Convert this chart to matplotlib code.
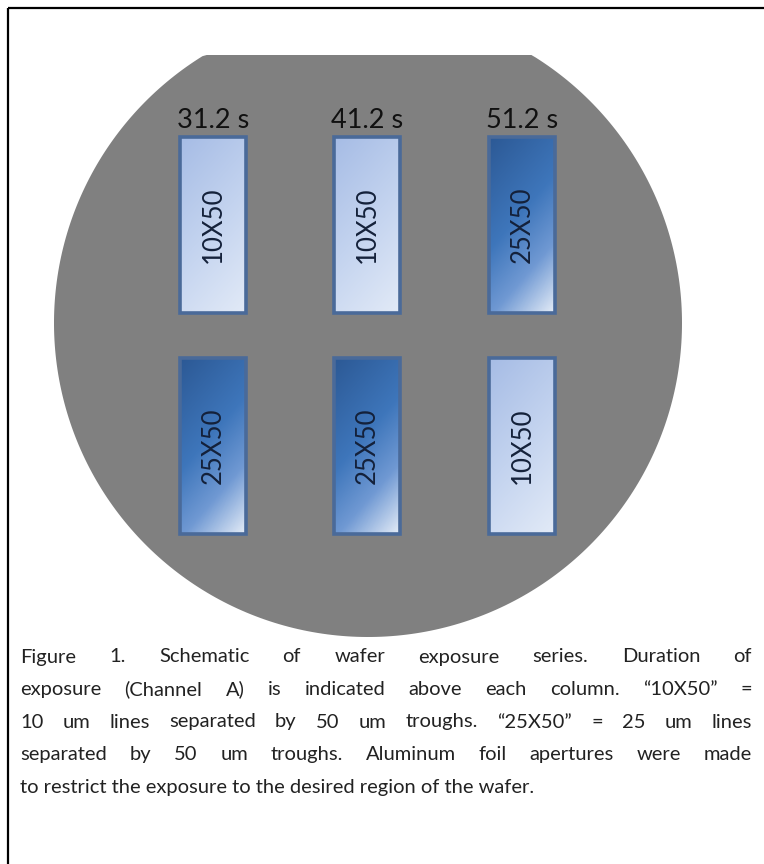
import numpy as np
import matplotlib
matplotlib.use("Agg")
import matplotlib.pyplot as plt
from matplotlib.patches import Polygon, Rectangle
from matplotlib.colors import LinearSegmentedColormap

# exposure time above each column, pattern in each cell
durations = ["31.2 s", "41.2 s", "51.2 s"]
row_top = ["10X50", "10X50", "25X50"]
row_bottom = ["25X50", "25X50", "10X50"]

caption_lines = [
    "Figure 1. Schematic of wafer exposure series. Duration of",
    "exposure (Channel A) is indicated above each column. \u201c10X50\u201d =",
    "10 um lines separated by 50 um troughs. \u201c25X50\u201d = 25 um lines",
    "separated by 50 um troughs. Aluminum foil apertures were made",
    "to restrict the exposure to the desired region of the wafer.",
]

W, H = 764, 864
FONT = "Lato"

# layout (pixels)
col_x = [213, 367, 522]
row_y = [137, 358]
cell_w, cell_h = 66, 176

light = LinearSegmentedColormap.from_list(
    "light", [(0, "#a6bce5"), (0.5, "#c3d3ef"), (1, "#e2eaf7")])
dark = LinearSegmentedColormap.from_list(
    "dark", [(0, "#2c5995"), (0.45, "#3e76bb"), (0.72, "#7099d3"), (1, "#e4ecf7")])

fig = plt.figure(figsize=(W / 100, H / 100), dpi=100)
ax = fig.add_axes([0, 0, 1, 1])
ax.axis("off")

# frame (cut off at right / bottom like the scan)
ax.add_patch(Rectangle((8, 8), 900, 1000, fill=False, ec="black", lw=1.6))

# wafer: circle with the flat on top
th = np.linspace(0, 2 * np.pi, 400)
wx = 368 + 314 * np.cos(th)
wy = np.maximum(323 + 314 * np.sin(th), 55)
ax.add_patch(Polygon(np.column_stack([wx, wy]), closed=True, fc="#808080", ec="none"))

u, v = np.meshgrid(np.linspace(0, 1, 60), np.linspace(0, 1, 160))
grad = 0.3 * u + 0.7 * v

for r, row in enumerate([row_top, row_bottom]):
    for c, lab in enumerate(row):
        x0 = col_x[c] - cell_w / 2
        y0 = row_y[r]
        cmap = dark if lab.startswith("25") else light
        im = ax.imshow(grad, cmap=cmap, vmin=0, vmax=1, origin="upper",
                       extent=(x0, x0 + cell_w, y0 + cell_h, y0),
                       aspect="auto", interpolation="bilinear", zorder=2)
        box = Rectangle((x0, y0), cell_w, cell_h, fc="none",
                        ec="#4a6a99", lw=2.6, zorder=3)
        ax.add_patch(box)
        im.set_clip_path(box)
        ax.text(col_x[c], y0 + cell_h / 2, lab, rotation=90, ha="center",
                va="center", fontsize=18.5, family=FONT, color="#14213a", zorder=4)

for c, d in enumerate(durations):
    ax.text(col_x[c], 121, d, ha="center", va="center", fontsize=19.5,
            family=FONT, color="#111111")

# justified caption
ax.set_xlim(0, W)
ax.set_ylim(H, 0)
renderer = fig.canvas.get_renderer()
left, right = 20, 752
fs = 14.5
for i, line in enumerate(caption_lines):
    y = 657 + i * 32.5
    if i == len(caption_lines) - 1:
        ax.text(left, y, line, ha="left", va="center", fontsize=fs,
                family=FONT, color="#222222")
        continue
    words = line.split(" ")
    objs = [ax.text(0, y, w, ha="left", va="center", fontsize=fs,
                    family=FONT, color="#222222") for w in words]
    widths = [o.get_window_extent(renderer).width for o in objs]
    gap = (right - left - sum(widths)) / (len(words) - 1)
    x = left
    for o, w in zip(objs, widths):
        o.set_x(x)
        x += w + gap

fig.savefig("out.png", dpi=100, facecolor="white")
